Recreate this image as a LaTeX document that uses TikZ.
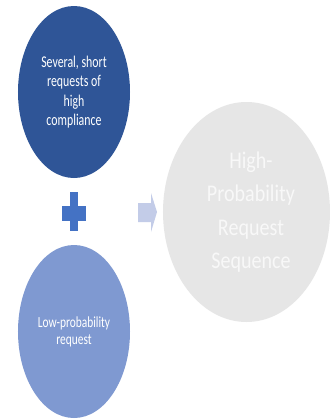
\documentclass[tikz,border=0pt]{standalone}
\usepackage{fontspec}
\setmainfont{Carlito}
\usetikzlibrary{shapes.geometric}
\definecolor{topblue}{HTML}{2F5597}
\definecolor{plusblue}{HTML}{4472C4}
\definecolor{lowblue}{HTML}{7F99D1}
\definecolor{arrowblue}{HTML}{C3CCE8}
\definecolor{biggray}{HTML}{E6E6E6}
\definecolor{bigtext}{HTML}{F8F8F8}
\tikzset{
  blob/.style={ellipse, inner sep=0pt, draw=none},
  lbl/.style={align=center, text=white, transform shape, inner sep=0pt},
}
\begin{document}
\begin{tikzpicture}[x=1bp, y=-1bp]
\useasboundingbox (0,0) rectangle (330,419);
\fill[white] (0,0) rectangle (330,419);
% big circle
\node[blob, fill=biggray, minimum width=167bp, minimum height=220bp] (big) at (246.5,212) {};
\node[lbl, text=bigtext, xscale=0.84, font=\fontsize{24}{33.5}\selectfont] (bigtxt) at (251,212) {High-\\Probability\\Request\\Sequence};
% top ellipse
\node[blob, fill=topblue, minimum width=112bp, minimum height=172bp] (top) at (74,92) {};
\node[lbl, xscale=0.72, font=\fontsize{16.5}{19.5}\selectfont] (toptxt) at (74,92) {Several, short\\requests of\\high\\compliance};
% bottom ellipse
\node[blob, fill=lowblue, minimum width=112bp, minimum height=173bp] (low) at (74,331.5) {};
\node[lbl, xscale=0.74, font=\fontsize{15.5}{17.5}\selectfont] (lowtxt) at (74,332) {Low-probability\\request};
% plus
\fill[plusblue] (62,206) rectangle (86,221);
\fill[plusblue] (70,192) rectangle (78,231);
% arrow
\fill[arrowblue] (138,203) -- (151,203) -- (151,193) -- (157,212) -- (151,232) -- (151,222) -- (138,222) -- cycle;
\end{tikzpicture}
\end{document}
